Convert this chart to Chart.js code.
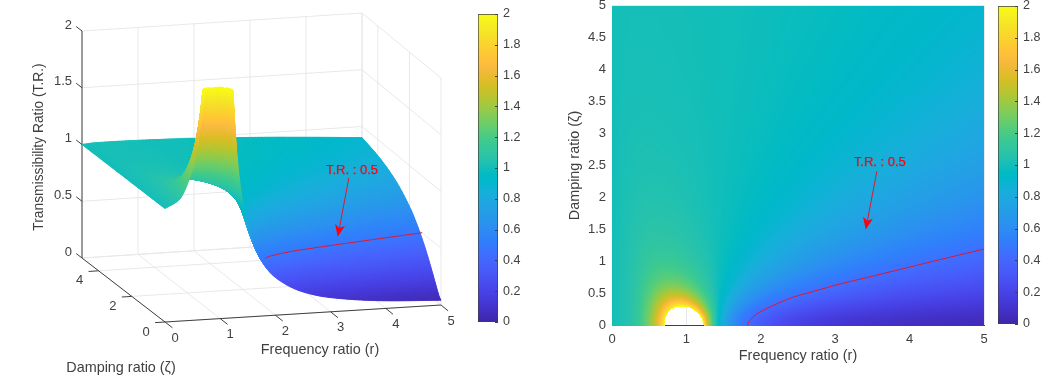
<!DOCTYPE html>
<html><head><meta charset="utf-8">
<style>
html,body{margin:0;padding:0;background:#fff;width:1056px;height:380px;overflow:hidden}
canvas{position:absolute;top:0;filter:blur(0.4px)}
</style>
<script src="https://cdn.jsdelivr.net/npm/chart.js@4"></script>
</head><body>
<canvas id="c3d" width="470" height="380" style="left:0"></canvas>
<canvas id="cb1" width="60" height="380" style="left:470px"></canvas>
<canvas id="heat" width="434" height="380" style="left:556px"></canvas>
<canvas id="cb2" width="66" height="380" style="left:990px"></canvas>
<script>
// ---- data ----
const freqGrid=[0,.25,.5,.6,.7,.8,.9,1,1.1,1.2,1.3,1.4,1.5,1.75,2,2.5,3,4,5];
const dampGrid=[0,.1,.2,.3,.4,.5,.6,.75,1,1.25,1.5,2,3,4,5];
const tr_000=[1,1,1,1,1,1,1,1,1,1,1,1,1,1,1];
const tr_025=[1.067,1.066,1.066,1.065,1.064,1.062,1.061,1.058,1.052,1.047,1.041,1.032,1.019,1.012,1.008];
const tr_050=[1.333,1.328,1.314,1.292,1.267,1.240,1.214,1.179,1.131,1.098,1.075,1.047,1.023,1.013,1.008];
const tr_060=[1.562,1.547,1.505,1.447,1.387,1.329,1.279,1.218,1.149,1.105,1.078,1.047,1.022,1.012,1.008];
const tr_070=[1.961,1.909,1.785,1.642,1.513,1.409,1.329,1.242,1.155,1.106,1.076,1.045,1.020,1.011,1.007];
const tr_080=[2.778,2.571,2.180,1.849,1.617,1.460,1.352,1.247,1.150,1.100,1.071,1.041,1.019,1.010,1.007];
const tr_090=[3,3,2.61,1.985,1.655,1.463,1.342,1.232,1.138,1.090,1.064,1.036,1.016,1.009,1.006];
const tr_100=[3,3,2.69,1.944,1.601,1.414,1.302,1.202,1.118,1.077,1.054,1.031,1.014,1.008,1.005];
const tr_110=[3,3,2.24,1.730,1.472,1.327,1.239,1.160,1.093,1.061,1.043,1.024,1.011,1.006,1.004];
const tr_120=[2.273,2.052,1.703,1.460,1.313,1.222,1.164,1.111,1.066,1.043,1.030,1.017,1.008,1.004,1.003];
const tr_130=[1.449,1.401,1.305,1.218,1.156,1.114,1.086,1.059,1.036,1.023,1.016,1.009,1.004,1.002,1.002];
const tr_140=[1.042,1.038,1.031,1.024,1.018,1.014,1.010,1.007,1.005,1.003,1.002,1.001,1.001,1.000,1.000];
const tr_150=[.800,.812,.841,.873,.901,.923,.940,.957,.973,.982,.987,.993,.997,.998,.999];
const tr_175=[.485,.506,.560,.627,.690,.745,.790,.841,.896,.928,.948,.969,.986,.992,.995];
const tr_200=[.333,.356,.412,.483,.555,.620,.677,.745,.825,.874,.907,.944,.974,.985,.990];
const tr_250=[.190,.212,.265,.330,.398,.463,.523,.602,.703,.775,.826,.890,.946,.968,.979];
const tr_300=[.125,.145,.193,.251,.311,.370,.426,.502,.608,.690,.752,.835,.915,.950,.967];
const tr_400=[.067,.085,.125,.171,.219,.266,.311,.377,.474,.557,.627,.731,.849,.906,.937];
const tr_500=[.042,.059,.093,.131,.169,.208,.246,.301,.387,.463,.531,.641,.781,.858,.902];
const trColumns=[tr_000,tr_025,tr_050,tr_060,tr_070,tr_080,tr_090,tr_100,tr_110,tr_120,tr_130,tr_140,tr_150,tr_175,tr_200,tr_250,tr_300,tr_400,tr_500];
// T.R. : 0.5 curve
const curveFreq=[1.82,1.84,1.87,1.90,1.99,2.21,2.43,2.79,3,3.5,4,4.5,5];
const curveDamp=[0,.06,.10,.14,.21,.335,.44,.56,.63,.77,.913,1.055,1.195];
const curveTR=.5;
const freqTicks=[0,1,2,3,4,5];
const dampTicks3d=[0,2,4];
const trTicks=[0,.5,1,1.5,2];
const barTicks=[0,.2,.4,.6,.8,1,1.2,1.4,1.6,1.8,2];
const annotationText='T.R. : 0.5';
const xTitle='Frequency ratio (r)', yTitleHeat='Damping ratio (ζ)', zTitle='Transmissibility Ratio (T.R.)';
const parula=[[.2422,.1504,.6603],[.2504,.1650,.7076],[.2578,.1818,.7511],[.2647,.1978,.7952],[.2706,.2147,.8364],[.2751,.2342,.8710],[.2783,.2559,.8991],[.2803,.2782,.9221],[.2813,.3006,.9414],[.2810,.3228,.9579],[.2795,.3447,.9717],[.2760,.3667,.9829],[.2699,.3892,.9906],[.2602,.4123,.9952],[.2440,.4358,.9988],[.2206,.4603,.9973],[.1963,.4847,.9892],[.1834,.5074,.9798],[.1786,.5289,.9682],[.1764,.5499,.9520],[.1687,.5703,.9359],[.1540,.5902,.9218],[.1460,.6091,.9079],[.1380,.6276,.8973],[.1248,.6459,.8883],[.1113,.6635,.8763],[.0952,.6798,.8598],[.0689,.6948,.8394],[.0297,.7082,.8163],[.0036,.7203,.7917],[.0067,.7312,.7660],[.0433,.7411,.7394],[.0964,.7500,.7120],[.1408,.7584,.6842],[.1717,.7670,.6554],[.1938,.7758,.6251],[.2161,.7843,.5923],[.2470,.7918,.5567],[.2906,.7973,.5188],[.3406,.8008,.4789],[.3909,.8029,.4354],[.4456,.8024,.3909],[.5044,.7993,.3480],[.5616,.7942,.3045],[.6174,.7876,.2612],[.6720,.7793,.2227],[.7242,.7698,.1910],[.7738,.7598,.1646],[.8203,.7498,.1535],[.8634,.7406,.1596],[.9035,.7330,.1774],[.9393,.7288,.2100],[.9728,.7298,.2394],[.9956,.7434,.2371],[.9970,.7659,.2199],[.9952,.7893,.2028],[.9892,.8136,.1885],[.9786,.8386,.1766],[.9676,.8639,.1643],[.9610,.8890,.1537],[.9597,.9135,.1423],[.9628,.9373,.1265],[.9691,.9606,.1064],[.9769,.9839,.0805]];

// ---- helpers ----
const FONT='"Liberation Sans", Arial, sans-serif', INK='#404040', GRID='#e8e8e8', RED='#ff0010', CURVE='#e0182f';
function colorOf(v){
  const t=Math.max(0,Math.min(1,v/2))*63, i=Math.min(62,Math.floor(t)), f=t-i, a=parula[i], b=parula[i+1];
  return 'rgb('+[0,1,2].map(k=>Math.round(255*(a[k]+(b[k]-a[k])*f))).join(',')+')';
}
const baseOpts=()=>({responsive:false,animation:false,events:[],layout:{autoPadding:false},plugins:{legend:{display:false},tooltip:{enabled:false},title:{display:false}}});
function columnsDatasets(pt,order){
  return freqGrid.map((r,i)=>({surfaceColumn:true,paintHere:i===0,order,showLine:false,pointRadius:0,
    data:dampGrid.map((z,j)=>pt(r,z,trColumns[i][j]))}));
}
// smooth shading between grid nodes (monotone Hermite, so no overshoot)
function tangent(xs,ys,k){
  const n=xs.length;
  const s0=k>0?(ys(k)-ys(k-1))/(xs[k]-xs[k-1]):null;
  const s1=k<n-1?(ys(k+1)-ys(k))/(xs[k+1]-xs[k]):null;
  if(s0===null)return s1; if(s1===null)return s0;
  if(s0*s1<=0)return 0;
  const h0=xs[k]-xs[k-1],h1=xs[k+1]-xs[k],w1=2*h1+h0,w2=h1+2*h0;
  return (w1+w2)/(w1/s0+w2/s1);
}
function hermite(xs,ys,i,x){
  const h=xs[i+1]-xs[i],t=(x-xs[i])/h,t2=t*t,t3=t2*t;
  return (2*t3-3*t2+1)*ys(i)+(t3-2*t2+t)*h*tangent(xs,ys,i)+(-2*t3+3*t2)*ys(i+1)+(t3-t2)*h*tangent(xs,ys,i+1);
}
function surfaceValue(cols,i,j,r,z){
  const memo={};
  const f=k=>{
    if(k in memo)return memo[k];
    const d=cols[k].data;
    return memo[k]=hermite(dampGrid,n=>d[n].v,j,z);
  };
  return hermite(freqGrid,f,i,r);
}
function shade3d(chart,place,step){
  const cols=chart.data.datasets.filter(d=>d.surfaceColumn), ctx=chart.ctx;
  ctx.save();ctx.lineWidth=1;ctx.lineJoin='round';
  for(let j=dampGrid.length-2;j>=0;j--)for(let i=freqGrid.length-2;i>=0;i--){
    const r0=freqGrid[i],r1=freqGrid[i+1],z0=dampGrid[j],z1=dampGrid[j+1];
    const val=(u,w)=>surfaceValue(cols,i,j,r0+(r1-r0)*u,z0+(z1-z0)*w);
    const p00=place(r0,z0,val(0,0)),p10=place(r1,z0,val(1,0)),p01=place(r0,z1,val(0,1)),p11=place(r1,z1,val(1,1));
    const nx=Math.min(60,Math.max(1,Math.ceil(Math.max(Math.hypot(p10[0]-p00[0],p10[1]-p00[1]),Math.hypot(p11[0]-p01[0],p11[1]-p01[1]))/step)));
    const ny=Math.min(60,Math.max(1,Math.ceil(Math.max(Math.hypot(p01[0]-p00[0],p01[1]-p00[1]),Math.hypot(p11[0]-p10[0],p11[1]-p10[1]))/step)));
    const grid=[];
    for(let b=0;b<=ny;b++){grid[b]=[];for(let a=0;a<=nx;a++)grid[b][a]=val(a/nx,b/ny);}
    const pos=(a,b)=>place(r0+(r1-r0)*a/nx,z0+(z1-z0)*b/ny,grid[b][a]);
    for(let b=ny-1;b>=0;b--)for(let a=nx-1;a>=0;a--){
      const m=(grid[b][a]+grid[b][a+1]+grid[b+1][a]+grid[b+1][a+1])/4;
      if(m>2)continue;
      const A=pos(a,b),B=pos(a+1,b),C=pos(a+1,b+1),D=pos(a,b+1),c=colorOf(m);
      ctx.beginPath();ctx.moveTo(A[0],A[1]);ctx.lineTo(B[0],B[1]);ctx.lineTo(C[0],C[1]);ctx.lineTo(D[0],D[1]);ctx.closePath();
      ctx.fillStyle=c;ctx.strokeStyle=c;ctx.fill();ctx.stroke();
    }
  }
  ctx.restore();
}
function shadeFlat(chart){
  const cols=chart.data.datasets.filter(d=>d.surfaceColumn), ctx=chart.ctx, X=chart.scales.x, Y=chart.scales.y;
  ctx.save();
  for(let i=0;i<freqGrid.length-1;i++)for(let j=0;j<dampGrid.length-1;j++){
    const a0=X.getPixelForValue(freqGrid[i]),a1=X.getPixelForValue(freqGrid[i+1]),b0=Y.getPixelForValue(dampGrid[j]),b1=Y.getPixelForValue(dampGrid[j+1]);
    for(let px=Math.round(a0);px<Math.round(a1);px++){
      const rc=Math.max(freqGrid[i],Math.min(freqGrid[i+1],X.getValueForPixel(px+.5)));
      for(let py=Math.round(b1);py<Math.round(b0);py++){
        const z=Math.max(dampGrid[j],Math.min(dampGrid[j+1],Y.getValueForPixel(py+.5)));
        const v=surfaceValue(cols,i,j,rc,z);
        if(v>2)continue;
        ctx.fillStyle=colorOf(v);ctx.fillRect(px,py,1,1);
      }
    }
  }
  ctx.restore();
}
function drawArrow(ctx,tail,tip,text,tx,ty){
  const dx=tip[0]-tail[0],dy=tip[1]-tail[1],L=Math.hypot(dx,dy),ux=dx/L,uy=dy/L,nx=-uy,ny=ux;
  ctx.save();
  ctx.strokeStyle=CURVE;ctx.lineWidth=1;ctx.beginPath();ctx.moveTo(tail[0],tail[1]);ctx.lineTo(tip[0]-ux*8,tip[1]-uy*8);ctx.stroke();
  ctx.fillStyle=RED;ctx.beginPath();ctx.moveTo(tip[0],tip[1]);
  ctx.lineTo(tip[0]-ux*12+nx*5,tip[1]-uy*12+ny*5);ctx.lineTo(tip[0]-ux*9,tip[1]-uy*9);ctx.lineTo(tip[0]-ux*12-nx*5,tip[1]-uy*12-ny*5);ctx.closePath();ctx.fill();
  ctx.font='13px '+FONT;ctx.textAlign='center';ctx.textBaseline='middle';
  ctx.strokeStyle=RED;ctx.lineWidth=.25;ctx.strokeText(text,tx,ty);ctx.fillText(text,tx,ty);
  ctx.restore();
}

// ---- 3-D panel: projection of (r, zeta, T.R.) ----
const base00=[165,322],base50=[441,305],base05=[82,258],base55=[362,240],zUnit=113.5;
function proj(r,z,v){
  const u=r/5,w=z/5;
  return {x:(base00[0]*(1-u)+base50[0]*u)*(1-w)+(base05[0]*(1-u)+base55[0]*u)*w,
          y:(base00[1]*(1-u)+base50[1]*u)*(1-w)+(base05[1]*(1-u)+base55[1]*u)*w-v*zUnit};
}
const seg=(a,b,color,order,width)=>({showLine:true,pointRadius:0,borderColor:color,borderWidth:width||1,order,data:[a,b]});
const ds3=[];
trTicks.forEach(t=>{ds3.push(seg(proj(0,5,t),proj(5,5,t),GRID,6));ds3.push(seg(proj(5,5,t),proj(5,0,t),GRID,6));});
freqTicks.forEach(r=>{ds3.push(seg(proj(r,5,0),proj(r,5,2),GRID,6));ds3.push(seg(proj(r,0,0),proj(r,5,0),GRID,6));});
[...dampTicks3d,5].forEach(z=>{ds3.push(seg(proj(0,z,0),proj(5,z,0),GRID,6));ds3.push(seg(proj(5,z,0),proj(5,z,2),GRID,6));});
ds3.push(seg(proj(0,5,0),proj(0,5,2),INK,5),seg(proj(0,0,0),proj(5,0,0),INK,5),seg(proj(0,0,0),proj(0,5,0),INK,5));
freqTicks.forEach(r=>ds3.push(seg(proj(r,0,0),proj(r,-.45,0),INK,5)));
dampTicks3d.forEach(z=>ds3.push(seg(proj(0,z,0),proj(-.18,z,0),INK,5)));
trTicks.forEach(t=>ds3.push(seg(proj(0,5,t),proj(0,5.35,t),INK,5)));
ds3.push(...columnsDatasets((r,z,v)=>Object.assign(proj(r,z,Math.min(v,2)),{v}),3));
ds3.push({showLine:true,pointRadius:0,borderColor:CURVE,borderWidth:1,order:1,cubicInterpolationMode:'monotone',data:curveFreq.map((r,i)=>proj(r,curveDamp[i],curveTR))});
const surface3d={id:'surface3d',
  beforeDatasetDraw(chart,args){
    if(!chart.data.datasets[args.index].paintHere)return;
    const X=chart.scales.x,Y=chart.scales.y;
    shade3d(chart,(r,z,v)=>{const p=proj(r,z,v);return [X.getPixelForValue(p.x),Y.getPixelForValue(p.y)];},1.5);
  },
  afterDatasetsDraw(chart){
    const X=chart.scales.x,Y=chart.scales.y,ctx=chart.ctx;
    const px=(r,z,v)=>{const p=proj(r,z,v);return [X.getPixelForValue(p.x),Y.getPixelForValue(p.y)];};
    drawArrow(ctx,px(3.91,2,.926),px(3.42,1,.534),annotationText,352,170);
    ctx.save();ctx.fillStyle=INK;ctx.font='13px '+FONT;ctx.textAlign='center';ctx.textBaseline='middle';
    freqTicks.forEach(r=>{const p=px(r,0,0);ctx.fillText(String(r),p[0]+10,p[1]+16);});
    dampTicks3d.forEach(z=>{const p=px(0,z,0);ctx.fillText(String(z),p[0]-19,p[1]+10);});
    ctx.textAlign='right';
    trTicks.forEach(t=>{const p=px(0,5,t);ctx.fillText(String(t),72,p[1]-6);});
    ctx.font='14.4px '+FONT;ctx.textAlign='center';
    ctx.fillText(xTitle,320,350);
    ctx.fillText(yTitleHeat,121,368);
    ctx.font='13.8px '+FONT;
    ctx.translate(39,147);ctx.rotate(-Math.PI/2);ctx.fillText(zTitle,0,0);
    ctx.restore();
  }};
const opt3=baseOpts();
opt3.scales={x:{type:'linear',display:false,min:0,max:470},y:{type:'linear',display:false,min:0,max:380,reverse:true}};
new Chart(document.getElementById('c3d'),{type:'scatter',data:{datasets:ds3},options:opt3,plugins:[surface3d]});

// ---- colour bars ----
function colorbar(id,padLeft,top,bottom,scaleWidth){
  const gradient=ctx=>{
    const ch=ctx.chart,a=ch.chartArea;if(!a)return '#000';
    const g=ch.ctx.createLinearGradient(0,a.bottom,0,a.top);
    parula.forEach((c,i)=>g.addColorStop(i/63,colorOf(i/63*2)));
    return g;
  };
  const o=baseOpts();
  o.layout.padding={left:padLeft,top,bottom,right:0};
  o.scales={
    x:{display:false},
    y:{position:'right',min:0,max:2,afterBuildTicks:s=>{s.ticks=barTicks.map(value=>({value}));},
       afterFit:s=>{s.width=scaleWidth;s.paddingTop=0;s.paddingBottom=0;},
       border:{display:false},grid:{display:false,drawTicks:false},
       ticks:{color:INK,font:{family:FONT,size:12.5},padding:5,autoSkip:false,callback:v=>String(v)}}
  };
  new Chart(document.getElementById(id),{type:'bar',
    data:{labels:['T.R.'],datasets:[{data:[[0,2]],backgroundColor:gradient,borderColor:INK,borderWidth:1,borderSkipped:false,categoryPercentage:1,barPercentage:1}]},
    options:o,
    plugins:[{id:'barTicks',afterDatasetsDraw(ch){
      const c=ch.ctx,a=ch.chartArea,y=ch.scales.y;c.save();c.strokeStyle=INK;c.lineWidth=1;
      barTicks.forEach(t=>{const p=Math.round(y.getPixelForValue(t))+.5;c.beginPath();c.moveTo(a.right-3,p);c.lineTo(a.right,p);c.stroke();});
      c.restore();}}]});
}
colorbar('cb1',8,14,58,32);
colorbar('cb2',8,6,56,38);

// ---- heat map ----
const dsH=columnsDatasets((r,z,v)=>({x:r,y:z,v}),3);
dsH.push({showLine:true,pointRadius:0,borderColor:CURVE,borderWidth:1,order:1,cubicInterpolationMode:'monotone',data:curveFreq.map((r,i)=>({x:r,y:curveDamp[i]}))});
const optH=baseOpts();
optH.layout.padding={top:5.5,right:6,bottom:0,left:0};
optH.scales={
  x:{type:'linear',min:0,max:5,afterFit:s=>{s.height=54.5;s.paddingLeft=0;s.paddingRight=0;},
     border:{display:true,color:INK,width:1},grid:{color:GRID,drawTicks:false},
     ticks:{stepSize:1,color:INK,font:{family:FONT,size:13},padding:6,maxRotation:0,callback:v=>String(v)},
     title:{display:true,text:xTitle,color:INK,font:{family:FONT,size:14.4},padding:{top:0,bottom:15}}},
  y:{type:'linear',min:0,max:5,afterFit:s=>{s.width=56;s.paddingTop=0;s.paddingBottom=0;},
     border:{display:false},grid:{color:GRID,drawTicks:false},
     ticks:{stepSize:.5,color:INK,font:{family:FONT,size:13},padding:6,callback:v=>String(v)},
     title:{display:true,text:yTitleHeat,color:INK,font:{family:FONT,size:14.4},padding:{top:10,bottom:0}}}
};
new Chart(document.getElementById('heat'),{type:'scatter',data:{datasets:dsH},options:optH,plugins:[{id:'heatShade',
  beforeDatasetDraw(chart,args){
    if(!chart.data.datasets[args.index].paintHere)return;
    shadeFlat(chart);
  },
  afterDatasetsDraw(chart){
    const X=chart.scales.x,Y=chart.scales.y,px=(r,z)=>[X.getPixelForValue(r),Y.getPixelForValue(z)];
    const t=px(3.6,2.55);
    drawArrow(chart.ctx,px(3.56,2.41),px(3.41,1.5),annotationText,t[0],t[1]);
  }}]});
</script>
</body></html>
